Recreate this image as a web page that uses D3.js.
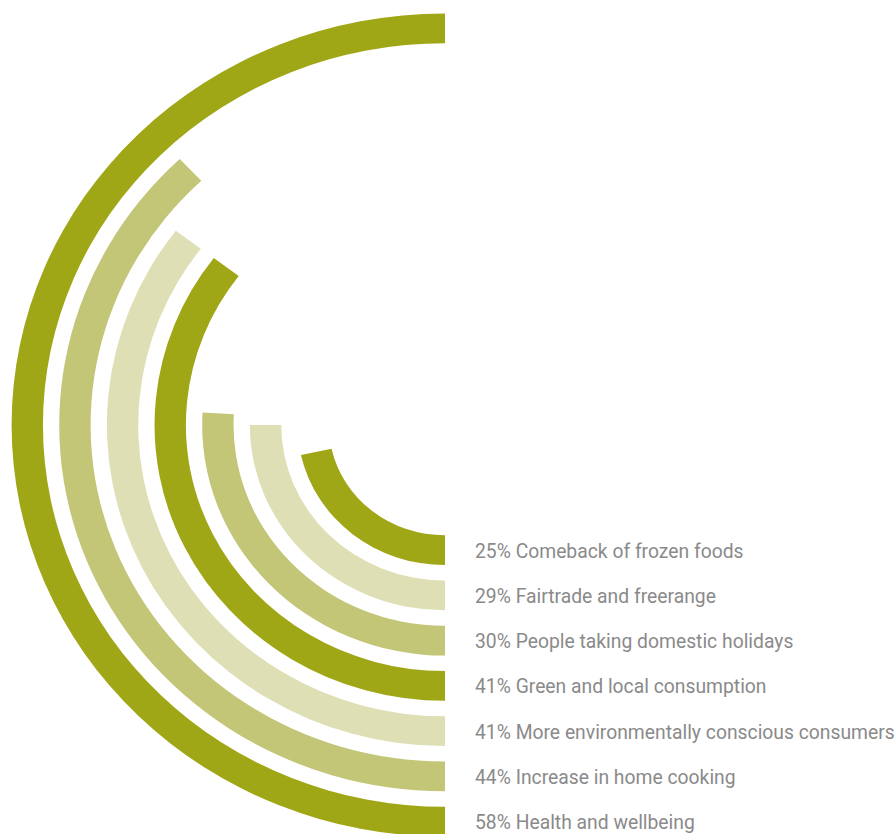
<!DOCTYPE html>
<html>
<head>
<meta charset="utf-8">
<script src="https://cdn.jsdelivr.net/npm/d3@7"></script>
<style>
  html, body { margin: 0; padding: 0; background: #ffffff; }
  svg { display: block; }
  .label { font-family: "Roboto", "Liberation Sans", sans-serif; fill: #8a8a8a; }
</style>
</head>
<body>
<svg id="chart" width="896" height="834"></svg>
<script>
// Survey trends, listed from the innermost ring outwards
const trends = [
  "Comeback of frozen foods",
  "Fairtrade and freerange",
  "People taking domestic holidays",
  "Green and local consumption",
  "More environmentally conscious consumers",
  "Increase in home cooking",
  "Health and wellbeing"
];
const shares = [25, 29, 30, 41, 41, 44, 58];
const ringColors = ["#a0a717", "#c3c577", "#dedfb4"]; // cycled from the outermost ring inwards

const width = 896, height = 834;
const cx = 445, cy = 425;
const labelX = 475, labelMaxWidth = 420;
const svg = d3.select("#chart");

// ring radius per trend (innermost first)
const radius = d3.scaleBand()
  .domain(trends)
  .range([110.3, 411.6])
  .paddingInner(0.342)
  .paddingOuter(0);

// half a turn corresponds to the largest share
const angle = d3.scaleLinear()
  .domain([0, d3.max(shares)])
  .range([0, Math.PI]);

const arc = d3.arc()
  .innerRadius(d => radius(d.name))
  .outerRadius(d => radius(d.name) + radius.bandwidth())
  .startAngle(Math.PI)
  .endAngle(d => Math.PI + angle(d.value));

const rows = trends.map((name, i) => ({ name, value: shares[i], idx: i }));
const n = rows.length;

const rings = svg.append("g")
  .attr("transform", `translate(${cx},${cy}) scale(1.053,1)`);

rings.selectAll("path")
  .data(rows)
  .join("path")
  .attr("d", arc)
  .attr("fill", d => ringColors[(n - 1 - d.idx) % 3]);

// labels sit level with the bottom end of each ring, set in a narrow face
const labels = svg.append("g")
  .selectAll("text")
  .data(rows)
  .join("text")
  .attr("class", "label")
  .attr("font-size", 20.5)
  .attr("dy", "0.36em")
  .text(d => `${d.value}% ${d.name}`);

const widest = d3.max(labels.nodes(), el => el.getComputedTextLength());
const squeeze = Math.min(1, labelMaxWidth / widest);
labels.attr("transform", d =>
  `translate(${labelX},${cy + radius(d.name) + radius.bandwidth() / 2}) scale(${squeeze},1)`);
</script>
</body>
</html>
